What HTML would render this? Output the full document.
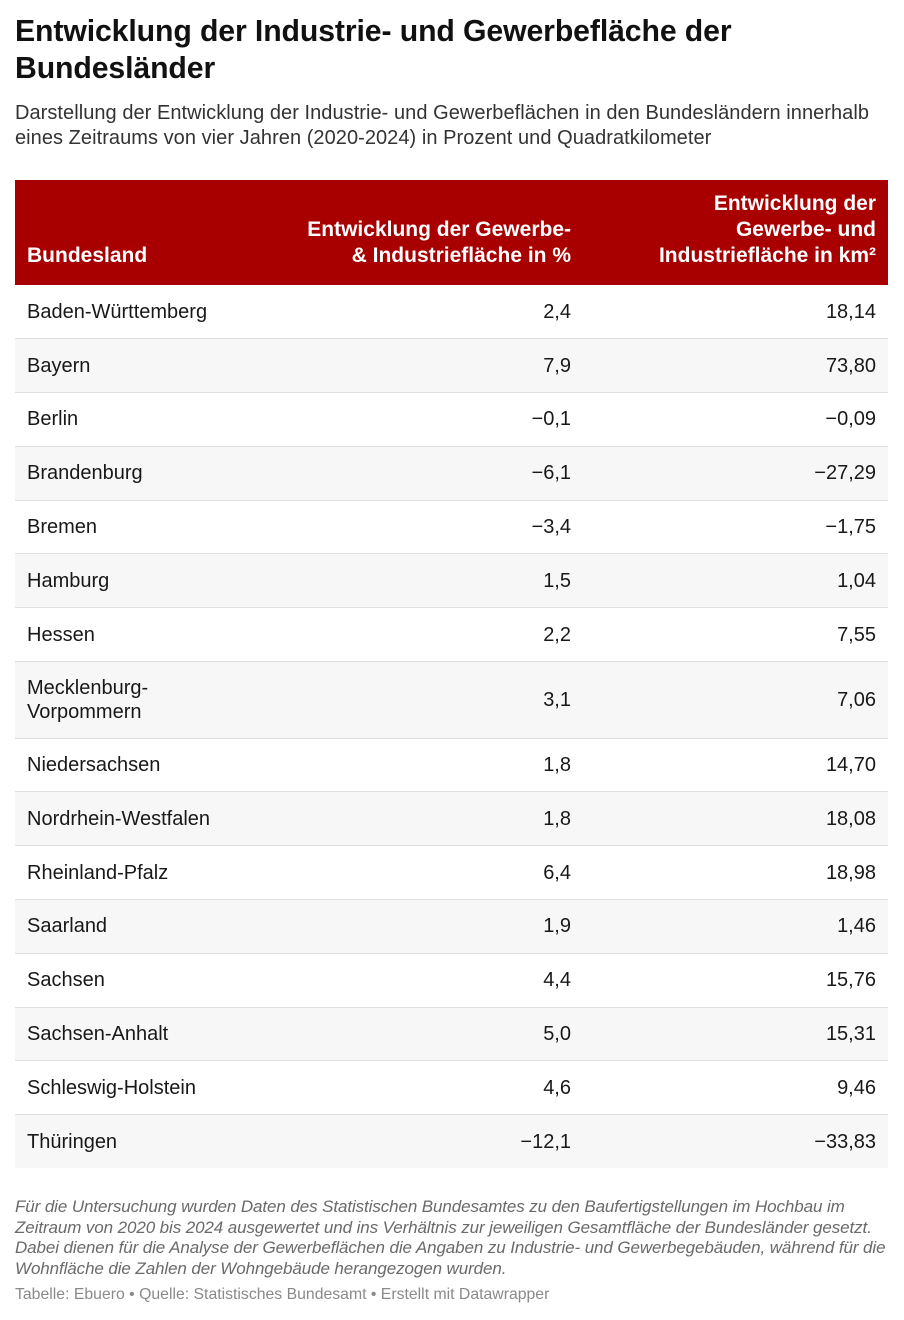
<!DOCTYPE html>
<html><head><meta charset="utf-8"><style>
*{margin:0;padding:0;box-sizing:border-box}
body{width:904px;height:1320px;background:#fff;font-family:"Liberation Sans",Arial,sans-serif;color:#181818;position:relative;overflow:hidden}
h1{position:absolute;left:15px;top:13px;font-size:30.2px;line-height:37px;font-weight:bold;color:#111;letter-spacing:-0.1px}
.sub{position:absolute;left:15px;top:101px;font-size:20px;line-height:25px;color:#333;letter-spacing:0.05px;white-space:nowrap}
table{position:absolute;left:15px;top:180px;width:873px;border-collapse:collapse}
th{background:#a80000;color:#fff;font-weight:bold;font-size:21px;line-height:26px;height:105px;vertical-align:bottom;padding:0 12px 16px 12px;letter-spacing:0}
td{font-size:20px;line-height:24px;height:53.8px;padding:0 12px;border-bottom:1px solid #e0e0e0;vertical-align:middle}
tr:nth-child(even) td{background:#f7f7f7}
.r{text-align:right}
tr.tall td{height:76.5px}
tr.last td{border-bottom:none}
.note{position:absolute;left:15px;top:1197px;font-size:17px;line-height:20.5px;font-style:italic;color:#6a6a6a;white-space:nowrap;letter-spacing:-0.1px}
.cred{position:absolute;left:15px;top:1286px;font-size:15.8px;color:#8a8a8a;letter-spacing:0}
</style></head><body>
<h1>Entwicklung der Industrie- und Gewerbefläche der<br>Bundesländer</h1>
<div class="sub">Darstellung der Entwicklung der Industrie- und Gewerbeflächen in den Bundesländern innerhalb<br>eines Zeitraums von vier Jahren (2020-2024) in Prozent und Quadratkilometer</div>
<table>
<thead><tr><th style="text-align:left;width:280px">Bundesland</th><th class="r" style="width:288px">Entwicklung der Gewerbe-<br>&amp; Industriefläche in %</th><th class="r">Entwicklung der<br>Gewerbe- und<br>Industriefläche in km²</th></tr></thead>
<tbody>
<tr><td>Baden-Württemberg</td><td class="r">2,4</td><td class="r">18,14</td></tr>
<tr><td>Bayern</td><td class="r">7,9</td><td class="r">73,80</td></tr>
<tr><td>Berlin</td><td class="r">−0,1</td><td class="r">−0,09</td></tr>
<tr><td>Brandenburg</td><td class="r">−6,1</td><td class="r">−27,29</td></tr>
<tr><td>Bremen</td><td class="r">−3,4</td><td class="r">−1,75</td></tr>
<tr><td>Hamburg</td><td class="r">1,5</td><td class="r">1,04</td></tr>
<tr><td>Hessen</td><td class="r">2,2</td><td class="r">7,55</td></tr>
<tr class="tall"><td>Mecklenburg-<br>Vorpommern</td><td class="r">3,1</td><td class="r">7,06</td></tr>
<tr><td>Niedersachsen</td><td class="r">1,8</td><td class="r">14,70</td></tr>
<tr><td>Nordrhein-Westfalen</td><td class="r">1,8</td><td class="r">18,08</td></tr>
<tr><td>Rheinland-Pfalz</td><td class="r">6,4</td><td class="r">18,98</td></tr>
<tr><td>Saarland</td><td class="r">1,9</td><td class="r">1,46</td></tr>
<tr><td>Sachsen</td><td class="r">4,4</td><td class="r">15,76</td></tr>
<tr><td>Sachsen-Anhalt</td><td class="r">5,0</td><td class="r">15,31</td></tr>
<tr><td>Schleswig-Holstein</td><td class="r">4,6</td><td class="r">9,46</td></tr>
<tr class="last"><td>Thüringen</td><td class="r">−12,1</td><td class="r">−33,83</td></tr>
</tbody></table>
<div class="note">Für die Untersuchung wurden Daten des Statistischen Bundesamtes zu den Baufertigstellungen im Hochbau im<br>Zeitraum von 2020 bis 2024 ausgewertet und ins Verhältnis zur jeweiligen Gesamtfläche der Bundesländer gesetzt.<br>Dabei dienen für die Analyse der Gewerbeflächen die Angaben zu Industrie- und Gewerbegebäuden, während für die<br>Wohnfläche die Zahlen der Wohngebäude herangezogen wurden.</div>
<div class="cred">Tabelle: Ebuero • Quelle: Statistisches Bundesamt • Erstellt mit Datawrapper</div>
</body></html>
